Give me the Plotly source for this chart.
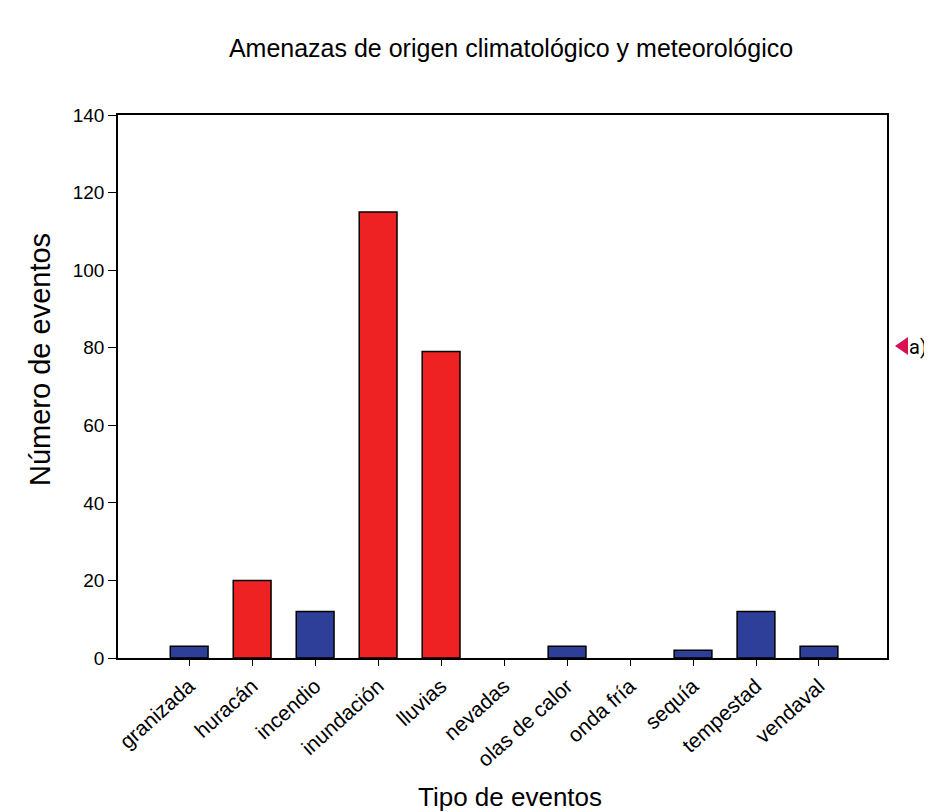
import plotly.graph_objects as go

categories = ["granizada", "huracán", "incendio", "inundación", "lluvias", "nevadas",
              "olas de calor", "onda fría", "sequía", "tempestad", "vendaval"]
values = [3, 20, 12, 115, 79, 0, 3, 0, 2, 12, 3]
groups = ["b", "r", "b", "r", "r", "b", "b", "b", "b", "b", "b"]
y_ticks = [0, 20, 40, 60, 80, 100, 120, 140]

RED = "#EE2222"
BLUE = "#2E3F9A"
colors = [RED if g == "r" else BLUE for g in groups]
line_widths = [1.5 if v > 0 else 0 for v in values]

W, H = 932, 812
L, R, T, B = 110, 53, 107, 162
pw, ph = W - L - R, H - T - B


def px(x):
    return (x - L) / pw


def py(y):
    return (H - B - y) / ph


fig = go.Figure()
fig.add_trace(go.Bar(
    x=list(range(len(categories))), y=values,
    marker=dict(color=colors, line=dict(color="black", width=line_widths)),
    width=0.6,
))

font = "Liberation Sans, Arial, sans-serif"
fig.update_layout(
    width=W, height=H,
    margin=dict(l=L, r=R, t=T, b=B, autoexpand=False),
    paper_bgcolor="white", plot_bgcolor="white",
    showlegend=False,
    font=dict(family=font, color="black"),
    title=dict(text="Amenazas de origen climatológico y meteorológico",
               x=503 / W, xanchor="center", y=1 - 40 / H, yanchor="middle",
               font=dict(size=25, family=font)),
    xaxis=dict(
        range=[-1.13, 11.08],
        tickmode="array", tickvals=list(range(len(categories))), ticktext=categories,
        tickangle=-42, ticks="outside", ticklen=6, tickcolor="black",
        showline=True, linecolor="black", linewidth=1.5, mirror=True,
        showgrid=False, zeroline=False,
        tickfont=dict(size=21, family=font),
    ),
    yaxis=dict(
        range=[0, 140],
        tickmode="array", tickvals=y_ticks,
        ticks="outside", ticklen=8, tickcolor="black",
        showline=True, linecolor="black", linewidth=1.5, mirror=True,
        showgrid=False, zeroline=False,
        tickfont=dict(size=19, family=font),
    ),
)

# axis titles
fig.add_annotation(xref="paper", yref="paper", x=px(502), y=py(789),
                   xanchor="center", yanchor="middle", showarrow=False,
                   text="Tipo de eventos", font=dict(size=26, family=font))
fig.add_annotation(xref="paper", yref="paper", x=px(32), y=py(352),
                   xanchor="center", yanchor="middle", showarrow=False, textangle=-90,
                   text="Número de eventos", font=dict(size=29, family=font))

# side marker "◀ a)"
fig.add_shape(type="path", xref="paper", yref="paper",
              path=f"M {px(887)},{py(338)} L {px(900)},{py(329)} L {px(900)},{py(347)} Z",
              fillcolor="#D81050", line=dict(width=0))
fig.add_annotation(xref="paper", yref="paper", x=px(899), y=py(339),
                   xanchor="left", yanchor="middle", showarrow=False,
                   text="a)", font=dict(size=20, family="Liberation Sans Narrow, Roboto, sans-serif"))

fig.write_html("out.html")
